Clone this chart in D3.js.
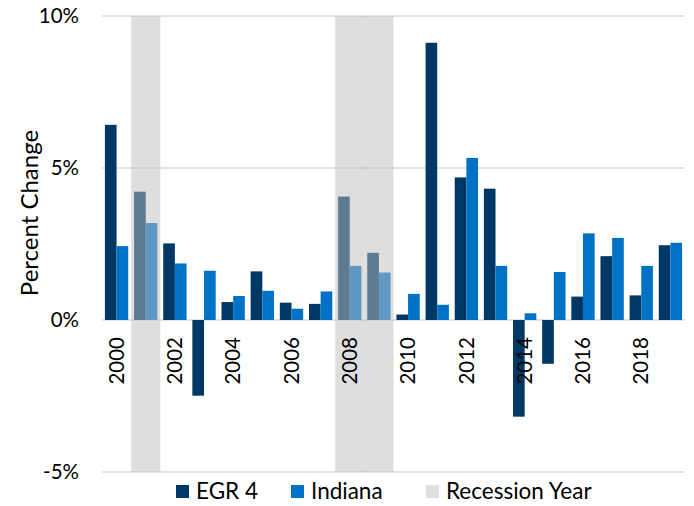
<!DOCTYPE html>
<html>
<head>
<meta charset="utf-8">
<script src="https://cdn.jsdelivr.net/npm/d3@7"></script>
<style>
  body { margin: 0; background: #fff; }
  svg { font-family: Lato, "Open Sans", sans-serif; }
</style>
</head>
<body>
<svg id="chart" width="694" height="506"></svg>
<script>
var years = d3.range(2000, 2020);
var egr4 = [6.42, 4.22, 2.52, -2.49, 0.59, 1.60, 0.57, 0.53, 4.06, 2.21,
            0.18, 9.12, 4.69, 4.32, -3.18, -1.44, 0.77, 2.10, 0.81, 2.46];
var indiana = [2.43, 3.19, 1.86, 1.62, 0.79, 0.96, 0.37, 0.94, 1.78, 1.56,
               0.86, 0.50, 5.33, 1.78, 0.22, 1.58, 2.85, 2.70, 1.78, 2.54];
var recessionYears = [2001, 2008, 2009];
var yTicks = [-5, 0, 5, 10];
var seriesNames = ["EGR 4", "Indiana"];
var seriesColors = ["#003865", "#0072c6"];

var svg = d3.select("#chart");
var pLeft = 102, pRight = 685, pTop = 16, pBottom = 472;

var x = d3.scaleBand().domain(years).range([pLeft, pRight]).paddingInner(0.2).paddingOuter(0.1);
var xFull = d3.scaleBand().domain(years).range([pLeft, pRight]);
var xs = d3.scaleBand().domain([0, 1]).range([0, x.bandwidth()]);
var y = d3.scaleLinear().domain([-5, 10]).range([pBottom, pTop]);

// gridlines
svg.append("g").selectAll("line").data(yTicks).enter().append("line")
    .attr("x1", pLeft).attr("x2", pRight)
    .attr("y1", function(d) { return y(d); }).attr("y2", function(d) { return y(d); })
    .attr("stroke", "#d9d9d9").attr("stroke-width", 1.5);

// bars
var series = [egr4, indiana];
series.forEach(function(vals, si) {
    svg.append("g").selectAll("rect").data(vals).enter().append("rect")
        .attr("x", function(d, i) { return x(years[i]) + xs(si); })
        .attr("width", xs.bandwidth())
        .attr("y", function(d) { return y(Math.max(0, d)); })
        .attr("height", function(d) { return Math.abs(y(d) - y(0)); })
        .attr("fill", seriesColors[si]);
});

// recession shading on top
svg.append("g").selectAll("rect").data(recessionYears).enter().append("rect")
    .attr("x", function(d) { return xFull(d); })
    .attr("width", xFull.bandwidth())
    .attr("y", pTop).attr("height", pBottom - pTop)
    .attr("fill", "rgb(190,190,190)").attr("fill-opacity", 0.5);

// y axis labels
svg.append("g").selectAll("text").data(yTicks).enter().append("text")
    .attr("x", 79).attr("y", function(d) { return y(d); })
    .attr("dy", "0.35em").attr("text-anchor", "end")
    .attr("font-size", 20.5).attr("fill", "#000")
    .text(function(d) { return d + "%"; });

svg.append("text")
    .attr("transform", "translate(30," + 213 + ") rotate(-90)")
    .attr("text-anchor", "middle").attr("dy", "0.35em")
    .attr("font-size", 24).attr("fill", "#000")
    .text("Percent Change");

// x labels (even years)
svg.append("g").selectAll("text").data(years.filter(function(d) { return d % 2 === 0; }))
    .enter().append("text")
    .attr("transform", function(d) {
        return "translate(" + (xFull(d) + xFull.bandwidth() / 2) + ",337) rotate(-90)";
    })
    .attr("text-anchor", "end").attr("dy", "0.35em")
    .attr("font-size", 20.5).attr("fill", "#000")
    .text(function(d) { return d; });

// legend
var legend = [
    {name: seriesNames[0], color: seriesColors[0], x: 176},
    {name: seriesNames[1], color: seriesColors[1], x: 291},
    {name: "Recession Year", color: "#dedede", x: 426}
];
var lg = svg.append("g").selectAll("g").data(legend).enter().append("g")
    .attr("transform", function(d) { return "translate(" + d.x + ",485)"; });
lg.append("rect").attr("width", 13).attr("height", 13).attr("fill", function(d) { return d.color; });
lg.append("text").attr("x", 20).attr("y", 6.5).attr("dy", "0.35em")
    .attr("font-size", 22.5).attr("fill", "#000")
    .text(function(d) { return d.name; });
</script>
</body>
</html>
